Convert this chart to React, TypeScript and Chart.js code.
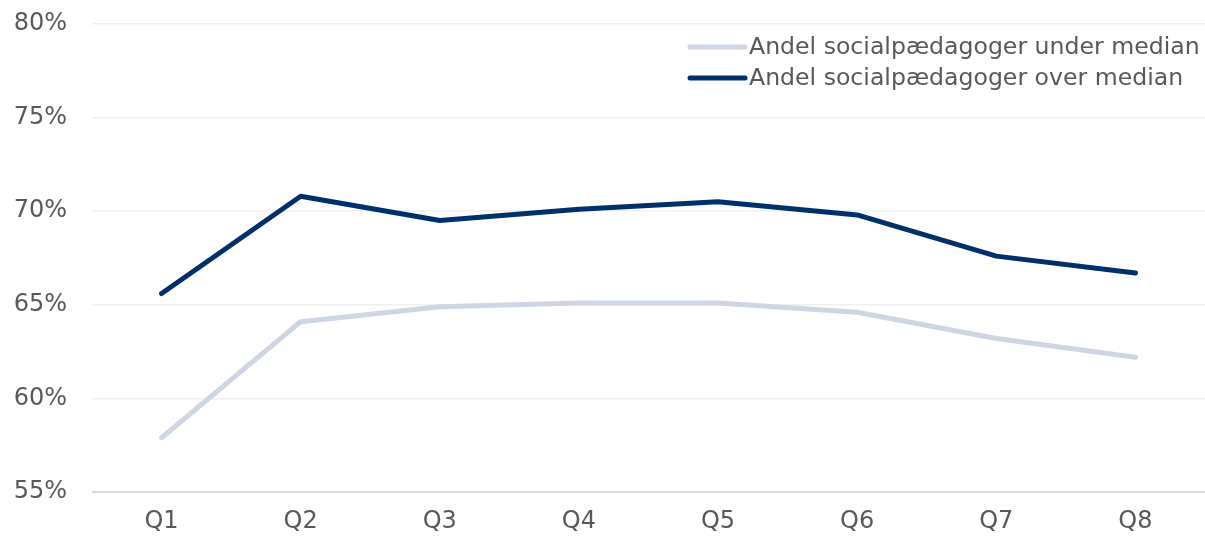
import React, { useEffect, useRef } from "react";
import { Chart, registerables } from "chart.js";

Chart.register(...registerables);

const categories = ["Q1", "Q2", "Q3", "Q4", "Q5", "Q6", "Q7", "Q8"];
const underMedian = [57.9, 64.1, 64.9, 65.1, 65.1, 64.6, 63.2, 62.2];
const overMedian = [65.6, 70.8, 69.5, 70.1, 70.5, 69.8, 67.6, 66.7];
const seriesNames = ["Andel socialpædagoger under median", "Andel socialpædagoger over median"];
const seriesColors = ["#CED6E3", "#003069"];
const yTicks = [55, 60, 65, 70, 75, 80];

const FONT = "'DejaVu Sans', Verdana, sans-serif";
const FS = 24;
const LEGEND_FS = 23.6;

const legendPlugin = {
  id: "customLegend",
  afterDraw(chart: any) {
    const ctx = chart.ctx;
    ctx.save();
    ctx.font = `${LEGEND_FS}px ${FONT}`;
    ctx.textBaseline = "middle";
    ctx.textAlign = "left";
    const rows = [47, 78];
    seriesNames.forEach((name, i) => {
      const y = rows[i];
      ctx.strokeStyle = seriesColors[i];
      ctx.lineWidth = 5;
      ctx.lineCap = "round";
      ctx.beginPath();
      ctx.moveTo(690, y);
      ctx.lineTo(745, y);
      ctx.stroke();
      ctx.fillStyle = "#595959";
      ctx.fillText(name, 749, y + 1);
    });
    ctx.restore();
  },
};

export default function App() {
  const ref = useRef<HTMLCanvasElement>(null);
  useEffect(() => {
    if (!ref.current) return;
    const chart = new Chart(ref.current, {
      type: "line",
      data: {
        labels: categories,
        datasets: [
          {
            label: seriesNames[0],
            data: underMedian,
            borderColor: seriesColors[0],
            backgroundColor: seriesColors[0],
            borderWidth: 5,
            pointRadius: 0,
            tension: 0,
            borderCapStyle: "round",
            borderJoinStyle: "round",
          },
          {
            label: seriesNames[1],
            data: overMedian,
            borderColor: seriesColors[1],
            backgroundColor: seriesColors[1],
            borderWidth: 5,
            pointRadius: 0,
            tension: 0,
            borderCapStyle: "round",
            borderJoinStyle: "round",
          },
        ],
      },
      options: {
        animation: false,
        responsive: false,
        maintainAspectRatio: false,
        layout: { padding: { top: 24, right: 0, bottom: 0, left: 0 } },
        plugins: { legend: { display: false }, tooltip: { enabled: false } },
        scales: {
          x: {
            offset: true,
            grid: { display: false, drawTicks: false },
            border: { display: false },
            ticks: { color: "#595959", font: { family: FONT, size: FS }, padding: 15 },
            afterFit(scale: any) {
              scale.height = 45;
              scale.paddingLeft = 0;
              scale.paddingRight = 0;
            },
          },
          y: {
            min: 55,
            max: 80,
            afterBuildTicks(scale: any) {
              scale.ticks = yTicks.map((v) => ({ value: v }));
            },
            grid: {
              drawTicks: false,
              color: (c: any) => (c.tick && c.tick.value === 55 ? "#d9d9d9" : "#efefef"),
              lineWidth: (c: any) => (c.tick && c.tick.value === 55 ? 2 : 1.5),
            },
            border: { display: false },
            ticks: {
              color: "#595959",
              font: { family: FONT, size: FS },
              padding: 25,
              callback: (v: any) => `${v}%`,
            },
            afterFit(scale: any) {
              scale.width = 92;
              scale.paddingTop = 0;
              scale.paddingBottom = 0;
            },
          },
        },
      },
      plugins: [legendPlugin],
    });
    return () => chart.destroy();
  }, []);
  return (
    <div style={{ position: "fixed", left: 0, top: 0, width: 1205, height: 537, background: "#fff" }}>
      <canvas ref={ref} width={1205} height={537} style={{ width: 1205, height: 537, display: "block" }} />
    </div>
  );
}
